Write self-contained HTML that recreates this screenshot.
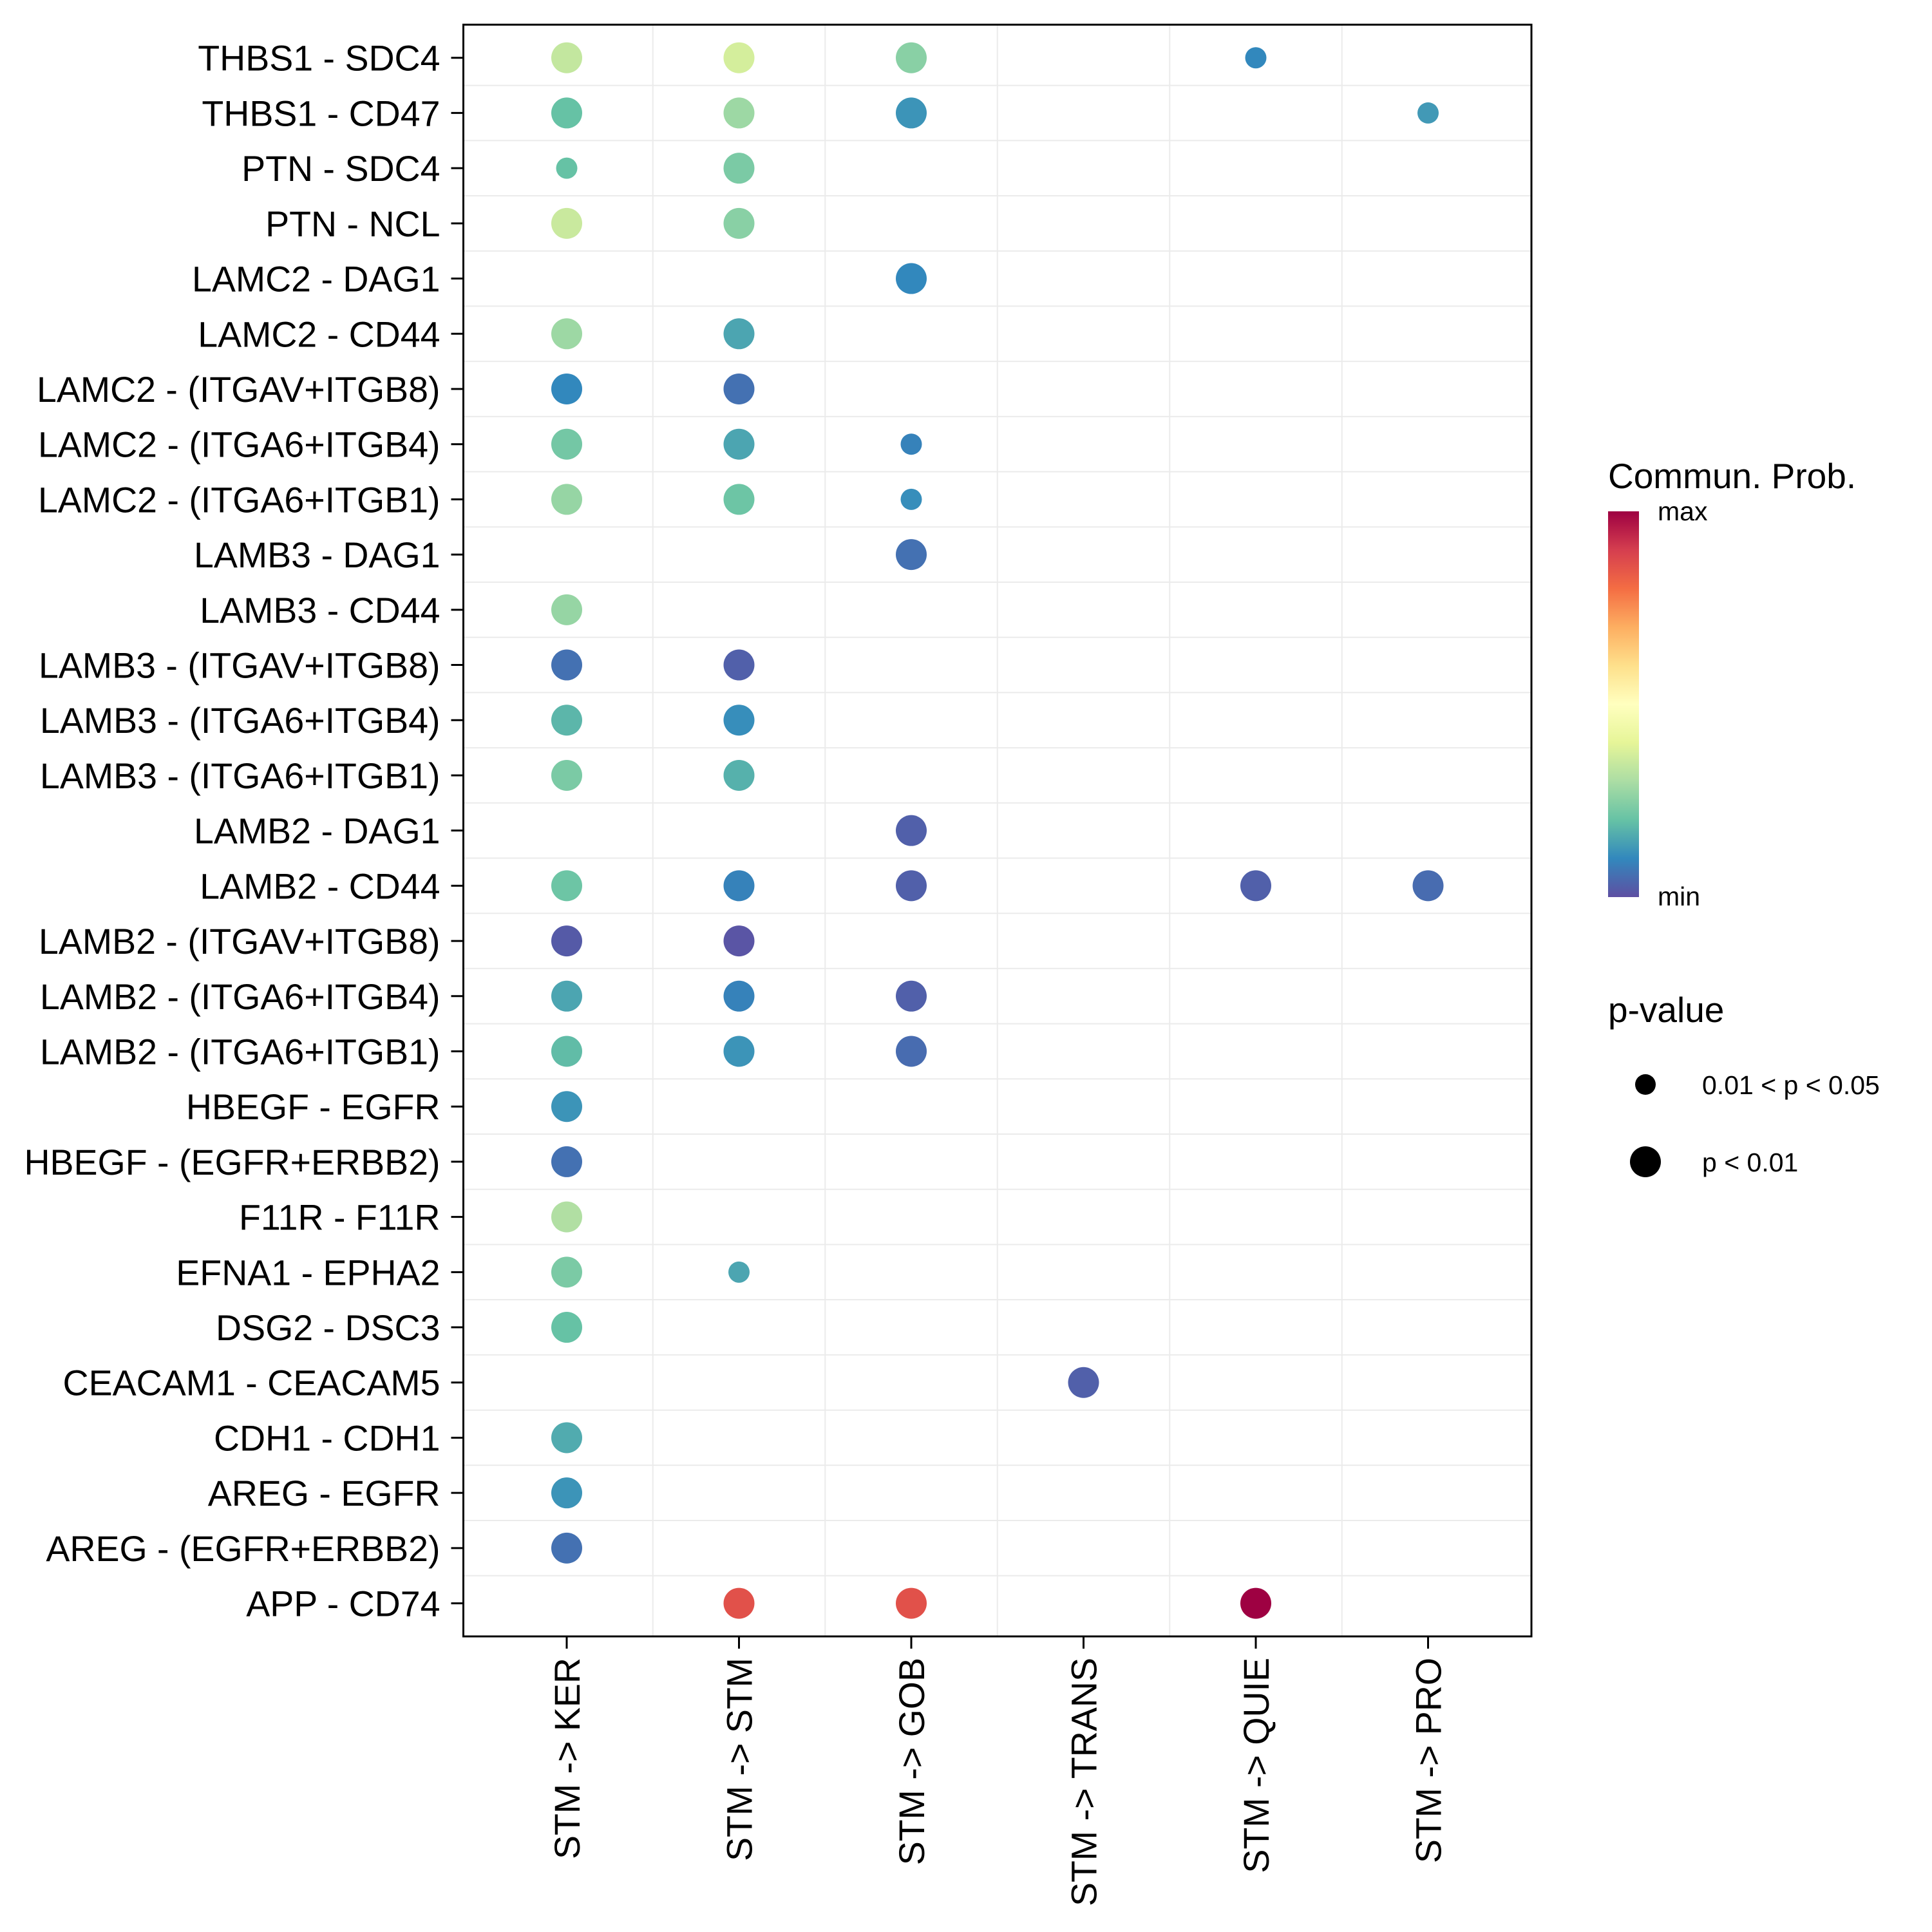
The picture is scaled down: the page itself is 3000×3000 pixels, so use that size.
<!DOCTYPE html>
<html><head><meta charset="utf-8"><style>
html,body{margin:0;padding:0;background:#fff;}
svg{display:block;font-family:"Liberation Sans",sans-serif;}
</style></head><body>
<svg id="chart" width="3000" height="3000" viewBox="0 0 3000 3000" xmlns="http://www.w3.org/2000/svg">
<defs><linearGradient id="spec" x1="0" y1="1" x2="0" y2="0">
<stop offset="0" stop-color="#5E4FA2"/><stop offset="0.1" stop-color="#3288BD"/><stop offset="0.2" stop-color="#66C2A5"/><stop offset="0.3" stop-color="#ABDDA4"/><stop offset="0.4" stop-color="#E6F598"/><stop offset="0.5" stop-color="#FFFFBF"/><stop offset="0.6" stop-color="#FEE08B"/><stop offset="0.7" stop-color="#FDAE61"/><stop offset="0.8" stop-color="#F46D43"/><stop offset="0.9" stop-color="#D53E4F"/><stop offset="1" stop-color="#9E0142"/>
</linearGradient></defs>
<g id="grid"></g>
<g id="dots"></g>
<rect x="719.5" y="38.3" width="1658.5" height="2502.7" fill="none" stroke="#000" stroke-width="3"/>
<g id="yaxis"></g>
<g id="xaxis"></g>
<g>
<text x="2497" y="758" font-size="55">Commun. Prob.</text>
<rect x="2497" y="794" width="48" height="599" fill="url(#spec)"/>
<text x="2574" y="808" font-size="41">max</text>
<text x="2574" y="1406" font-size="41">min</text>
</g>
<g>
<text x="2497" y="1587" font-size="55">p-value</text>
<circle cx="2555" cy="1684" r="16" fill="#000"/>
<text x="2643" y="1699" font-size="41">0.01 &lt; p &lt; 0.05</text>
<circle cx="2555" cy="1804" r="24" fill="#000"/>
<text x="2643" y="1819" font-size="41">p &lt; 0.01</text>
</g>
</svg>
<script>
const rowLabels=["THBS1 - SDC4","THBS1 - CD47","PTN - SDC4","PTN - NCL","LAMC2 - DAG1","LAMC2 - CD44","LAMC2 - (ITGAV+ITGB8)","LAMC2 - (ITGA6+ITGB4)","LAMC2 - (ITGA6+ITGB1)","LAMB3 - DAG1","LAMB3 - CD44","LAMB3 - (ITGAV+ITGB8)","LAMB3 - (ITGA6+ITGB4)","LAMB3 - (ITGA6+ITGB1)","LAMB2 - DAG1","LAMB2 - CD44","LAMB2 - (ITGAV+ITGB8)","LAMB2 - (ITGA6+ITGB4)","LAMB2 - (ITGA6+ITGB1)","HBEGF - EGFR","HBEGF - (EGFR+ERBB2)","F11R - F11R","EFNA1 - EPHA2","DSG2 - DSC3","CEACAM1 - CEACAM5","CDH1 - CDH1","AREG - EGFR","AREG - (EGFR+ERBB2)","APP - CD74"];
const colLabels=["STM -> KER","STM -> STM","STM -> GOB","STM -> TRANS","STM -> QUIE","STM -> PRO"];
const ptRow=[0,0,0,0, 1,1,1,1, 2,2, 3,3, 4, 5,5, 6,6, 7,7,7, 8,8,8, 9, 10, 11,11, 12,12, 13,13, 14, 15,15,15,15,15, 16,16, 17,17,17, 18,18,18, 19, 20, 21, 22,22, 23, 24, 25, 26, 27, 28,28,28];
const ptCol=[0,1,2,4, 0,1,2,5, 0,1, 0,1, 2, 0,1, 0,1, 0,1,2, 0,1,2, 2, 0, 0,1, 0,1, 0,1, 2, 0,1,2,4,5, 0,1, 0,1,2, 0,1,2, 0, 0, 0, 0,1, 0, 3, 0, 0, 0, 1,2,4];
const ptVal=[0.34,0.37,0.25,0.10, 0.20,0.28,0.12,0.13, 0.20,0.23, 0.35,0.25, 0.10, 0.28,0.15, 0.10,0.06, 0.22,0.15,0.09, 0.27,0.21,0.11, 0.06, 0.27, 0.06,0.03, 0.18,0.11, 0.23,0.17, 0.03, 0.21,0.09,0.03,0.03,0.05, 0.02,0.01, 0.15,0.09,0.03, 0.19,0.12,0.05, 0.12, 0.06, 0.31, 0.23,0.15, 0.20, 0.03, 0.16, 0.12, 0.06, 0.86,0.86,1.0];
const ptSig=[1,1,1,0, 1,1,1,0, 0,1, 1,1, 1, 1,1, 1,1, 1,1,0, 1,1,0, 1, 1, 1,1, 1,1, 1,1, 1, 1,1,1,1,1, 1,1, 1,1,1, 1,1,1, 1, 1, 1, 1,0, 1, 1, 1, 1, 1, 1,1,1];

const NS="http://www.w3.org/2000/svg";
const L=719.5,R=2378,T=38.3,B=2541;
const rowStep=(B-T)/(rowLabels.length-1+1.2), colStep=(R-L)/(colLabels.length-1+1.2);
function yPos(i){return T+0.6*rowStep+i*rowStep;}
function xPos(j){return L+0.6*colStep+j*colStep;}
const pal=["#5E4FA2","#3288BD","#66C2A5","#ABDDA4","#E6F598","#FFFFBF","#FEE08B","#FDAE61","#F46D43","#D53E4F","#9E0142"];
function hex(c){return [1,3,5].map(k=>parseInt(c.substr(k,2),16));}
function color(v){v=Math.max(0,Math.min(1,v))*10;const i=Math.min(9,Math.floor(v)),f=v-i;const a=hex(pal[i]),b=hex(pal[i+1]);return "rgb("+a.map((x,k)=>Math.round(x+(b[k]-x)*f)).join(",")+")";}
function mk(tag,attrs,parent){const e=document.createElementNS(NS,tag);for(const k in attrs)e.setAttribute(k,attrs[k]);parent.appendChild(e);return e;}
const grid=document.getElementById('grid'),dots=document.getElementById('dots'),ya=document.getElementById('yaxis'),xa=document.getElementById('xaxis');
for(let i=0;i<rowLabels.length-1;i++){const y=(yPos(i)+yPos(i+1))/2;const g=mk('line',{x1:L,x2:R,y1:y,y2:y,stroke:'#ebebeb','stroke-width':2},grid);

}
for(let j=0;j<colLabels.length-1;j++){const x=(xPos(j)+xPos(j+1))/2;const g=mk('line',{x1:x,x2:x,y1:T,y2:B,stroke:'#ebebeb','stroke-width':2},grid);

}
rowLabels.forEach((lab,i)=>{const y=yPos(i);
const t=mk('line',{x1:L-19,x2:L,y1:y,y2:y,stroke:'#000','stroke-width':3},ya);


const tx=mk('text',{x:L-36,y:y+20,'text-anchor':'end','font-size':55.5},ya);tx.textContent=lab;

});
colLabels.forEach((lab,j)=>{const x=xPos(j);
const t=mk('line',{x1:x,x2:x,y1:B,y2:B+19,stroke:'#000','stroke-width':3},xa);


const tx=mk('text',{transform:'translate('+(x+20)+','+(B+33)+') rotate(-90)','text-anchor':'end','font-size':55.5},xa);tx.textContent=lab;

});
ptRow.forEach((r,k)=>{const c=mk('circle',{cx:xPos(ptCol[k]),cy:yPos(r),r:ptSig[k]?24:16.5,fill:color(ptVal[k])},dots);

});
</script>
</body></html>
